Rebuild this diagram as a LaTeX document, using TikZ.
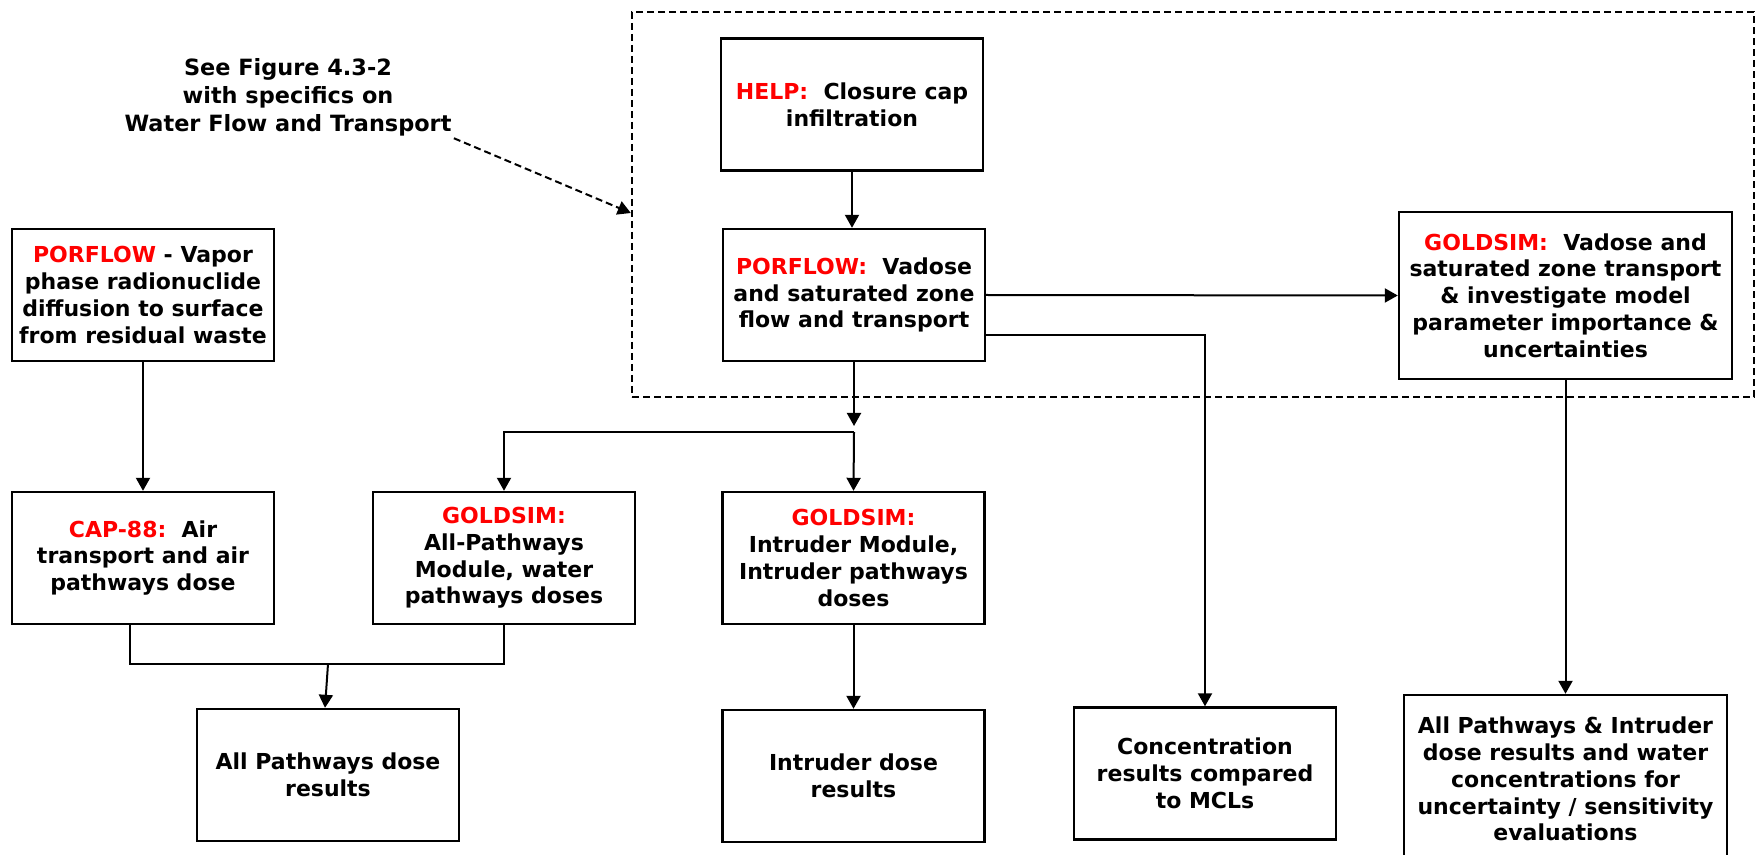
\documentclass[tikz,border=0pt]{standalone}
\usepackage{fontspec}
\setmainfont{DejaVu Sans}
\usepackage{xcolor}
\usepackage{tikz}
\usetikzlibrary{arrows.meta, positioning, calc}
\definecolor{myred}{RGB}{255,0,0}
\definecolor{mydark}{RGB}{0,0,0}
\newcommand{\codename}[1]{\textcolor{myred}{#1}}
\tikzset{
  block/.style={rectangle, draw=mydark, fill=white, line width=1.2pt,
    minimum width=131pt, minimum height=66pt, align=center, inner sep=1pt,
    font=\bfseries\fontsize{11}{13.4}\selectfont},
  wideblock/.style={block, minimum width=166.5pt, minimum height=83.5pt},
  groupbox/.style={rectangle, draw=mydark, line width=1.2pt,
    dash pattern=on 3.5pt off 2pt, minimum width=561pt, minimum height=192.5pt},
  arrow/.style={-{Triangle[length=6.5pt,width=7pt]}, line width=1pt, color=mydark},
  dasharrow/.style={arrow, dash pattern=on 3.5pt off 2pt},
  line/.style={line width=1pt, color=mydark}
}

\begin{document}
\begin{tikzpicture}[x=0.5pt, y=-0.5pt]
  \path[use as bounding box, fill=white] (0,0) rectangle (1756,855);

  % Dashed group round the water flow and transport models
  \node[groupbox] (group) at (1193,204.5) {};

  % Note pointing at the group
  \node[font=\bfseries\fontsize{11.2}{14}\selectfont, align=center, inner sep=1pt] (note) at (288,97)
    {See Figure 4.3-2\\with specifics on\\Water Flow and Transport};

  % Top row
  \node[block] (vapor) at (143,295)
    {\codename{PORFLOW} - Vapor\\phase radionuclide\\diffusion to surface\\from residual waste};
  \node[block] (help) at (852,104.5) {\codename{HELP:}\ \ Closure cap\\infiltration};
  \node[block] (porflow) at (854,295)
    {\codename{PORFLOW:}\ \ Vadose\\and saturated zone\\flow and transport};
  \node[wideblock] (gsvadose) at (1565.5,295.5)
    {\codename{GOLDSIM:}\ \ Vadose and\\saturated zone transport\\\& investigate model\\parameter importance \&\\uncertainties};

  % Middle row
  \node[block] (cap88) at (143,558) {\codename{CAP-88:}\ \ Air\\transport and air\\pathways dose};
  \node[block] (gsall) at (504,558) {\codename{GOLDSIM:}\\All-Pathways\\Module, water\\pathways doses};
  \node[block] (gsintr) at (853.5,558) {\codename{GOLDSIM:}\\Intruder Module,\\Intruder pathways\\doses};

  % Bottom row
  \node[block] (apdose) at (328,775) {All Pathways dose\\results};
  \node[block] (intrdose) at (853.5,776) {Intruder dose\\results};
  \node[block] (conc) at (1205,773.5) {Concentration\\results compared\\to MCLs};
  \node[block, minimum width=161.5pt, minimum height=84pt] (final) at (1565.5,779)
    {All Pathways \& Intruder\\dose results and water\\concentrations for\\uncertainty / sensitivity\\evaluations};

  % Connectors
  \coordinate (split) at (854,432);
  \coordinate (merge) at (328,664);

  \draw[dasharrow] (note.south east) -- ([yshift=-4.25pt]group.west);
  \draw[arrow] (help.south) -- (help.south |- porflow.north);
  \draw[arrow] (porflow.east) -- (gsvadose.west);
  \draw[arrow] ([yshift=-20pt]porflow.east) -| (conc.north);
  \draw[arrow, shorten >=3pt] (porflow.south) -- (split);
  \draw[arrow] (split) -- (gsintr.north);
  \draw[arrow] (split) -| (gsall.north);
  \draw[arrow] (vapor) -- (cap88);
  \draw[line] ([xshift=-6.5pt]cap88.south) |- (merge) -| (gsall.south);
  \draw[arrow] (merge) -- ([xshift=-1.5pt]apdose.north);
  \draw[arrow] (gsintr) -- (intrdose);
  \draw[arrow] (gsvadose) -- (final);
\end{tikzpicture}
\end{document}
